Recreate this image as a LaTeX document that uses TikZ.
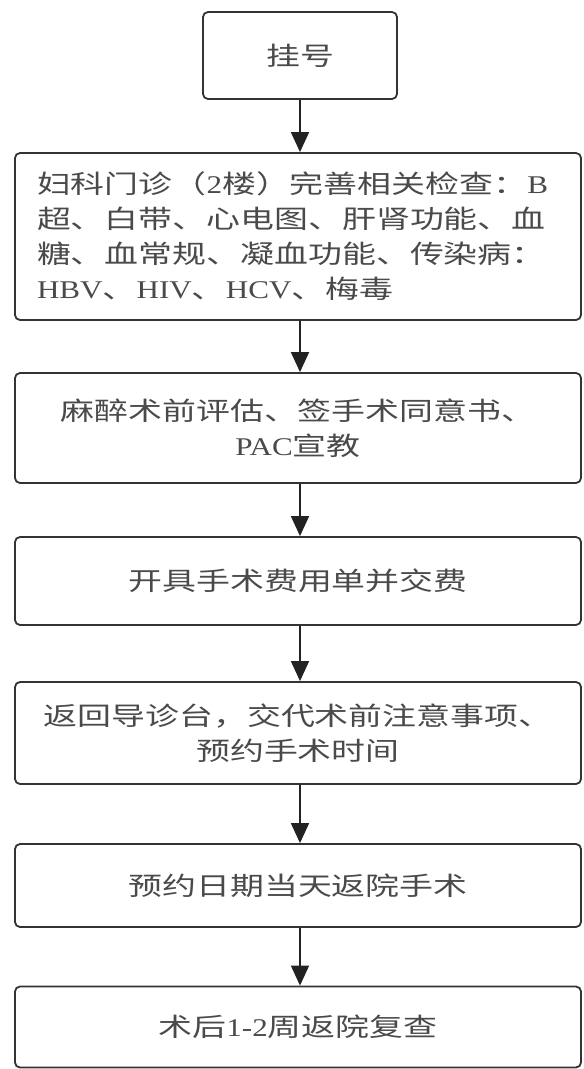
\documentclass[tikz,border=0pt]{standalone}
\usepackage{fontspec}
\usetikzlibrary{arrows.meta}
\setmainfont[FakeStretch=1.33]{Noto Sans CJK SC}
\newfontfamily\latfont[FakeStretch=1.22]{Liberation Serif}
\newcommand{\lt}[1]{{\latfont #1}}
\definecolor{linec}{HTML}{333333}
\definecolor{textc}{HTML}{4A4A4A}
\definecolor{arrc}{HTML}{222222}
\begin{document}
\begin{tikzpicture}[x=1pt,y=-1pt,
  box/.style={draw=linec, line width=1.8pt, rounded corners=5pt, text=textc,
    font=\fontsize{25.5}{35}\selectfont, align=center, inner sep=0pt,
    minimum width=566pt},
  arr/.style={draw=arrc, line width=1.6pt, -{Triangle[length=20pt,width=18pt]}}]
\useasboundingbox (0,0) rectangle (584,1069);
\node[box, minimum width=194pt, minimum height=87pt] (b1) at (300,55.5) {挂号};
\node[box, minimum height=167pt, text width=522pt, align=left] (b2) at (298,236.5)
  {妇科门诊（\lt{2}楼）完善相关检查：\lt{B}\\
   超、白带、心电图、肝肾功能、血\\
   糖、血常规、凝血功能、传染病：\\
   \lt{HBV}、\lt{HIV}、\lt{HCV}、梅毒};
\node[box, minimum height=110pt] (b3) at (298,428)
  {麻醉术前评估、签手术同意书、\\\lt{PAC}宣教};
\node[box, minimum height=88pt] (b4) at (298,581) {开具手术费用单并交费};
\node[box, minimum height=102pt] (b5) at (298,733)
  {返回导诊台，交代术前注意事项、\\预约手术时间};
\node[box, minimum height=83pt] (b6) at (298,885.5) {预约日期当天返院手术};
\node[box, minimum height=81pt] (b7) at (298,1027) {术后\lt{1-2}周返院复查};
\draw[arr] (b1.south) -- (b2.north -| b1.south);
\draw[arr] (b2.south -| b1.south) -- (b3.north -| b1.south);
\draw[arr] (b3.south -| b1.south) -- (b4.north -| b1.south);
\draw[arr] (b4.south -| b1.south) -- (b5.north -| b1.south);
\draw[arr] (b5.south -| b1.south) -- (b6.north -| b1.south);
\draw[arr] (b6.south -| b1.south) -- (b7.north -| b1.south);
\end{tikzpicture}
\end{document}
